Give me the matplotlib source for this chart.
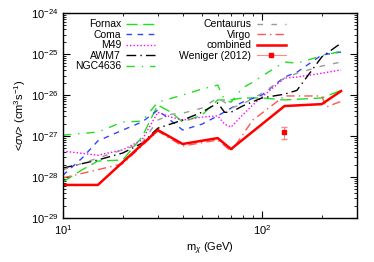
import numpy as np
import matplotlib
matplotlib.use("Agg")
import matplotlib.pyplot as plt
from matplotlib.lines import Line2D
from matplotlib.ticker import NullFormatter

plt.rcParams['font.family'] = ['Liberation Sans', 'DejaVu Sans']
plt.rcParams['mathtext.fontset'] = 'custom'
plt.rcParams['mathtext.rm'] = 'Liberation Sans'
plt.rcParams['mathtext.it'] = 'Liberation Sans:italic'

# limits per cluster, m in GeV, <sigma v> in cm^3/s
m_fornax = [10, 12.5, 15, 20, 25, 30, 35, 40, 50, 60, 70, 80, 100, 130, 200, 250]
sv_fornax = [7.6e-29, 1.5e-28, 2.45e-28, 2.6e-28, 9.5e-28, 5.7e-27, 3.8e-27, 2.2e-27,
             3.25e-27, 7.6e-27, 7.6e-27, 8.5e-27, 8.5e-27, 7.6e-27, 8.5e-27, 1.3e-26]

m_coma = [10, 12.5, 15, 20, 25, 30, 40, 50, 60, 70, 80, 100, 130, 150, 200, 250]
sv_coma = [1.1e-28, 2.9e-28, 7.6e-28, 1.4e-27, 2.2e-27, 4.3e-27, 1.4e-27, 1.95e-27,
           3.1e-27, 4.8e-27, 6.7e-27, 1.0e-26, 2.75e-26, 3.6e-26, 9.5e-26, 1.12e-25]

m_m49 = [10, 15, 20, 25, 30, 35, 40, 50, 60, 65, 70, 80, 90, 100, 130, 150, 200, 250]
sv_m49 = [4.3e-28, 3.4e-28, 4.6e-28, 8.0e-28, 3.8e-27, 2.9e-27, 2.45e-27, 2.9e-27, 3.1e-27,
          1.95e-27, 1.65e-27, 3.25e-27, 5.7e-27, 8.9e-27, 2.6e-26, 2.75e-26, 3.4e-26, 4.1e-26]

m_awm7 = [10, 15, 20, 25, 30, 40, 50, 60, 65, 70, 80, 100, 130, 150, 200, 250]
sv_awm7 = [1.65e-28, 2.6e-28, 3.85e-28, 6.7e-28, 1.55e-27, 2.45e-27, 3.8e-27, 6.4e-27,
           3.8e-27, 3.8e-27, 5.4e-27, 8.5e-27, 1.05e-26, 1.3e-26, 8.5e-26, 1.85e-25]

m_ngc4636 = [10, 15, 20, 25, 30, 40, 50, 60, 65, 70, 80, 90, 100, 130, 150, 200, 250]
sv_ngc4636 = [1.05e-27, 1.25e-27, 2.2e-27, 2.3e-27, 6.7e-27, 1.0e-26, 1.4e-26, 1.75e-26,
              7.6e-27, 6.7e-27, 1.5e-26, 2.05e-26, 2.9e-26, 6.4e-26, 6.0e-26, 9.0e-26, 1.18e-25]

m_centaurus = [10, 15, 20, 25, 30, 35, 40, 50, 60, 65, 70, 80, 100, 130, 150, 200, 250]
sv_centaurus = [1.5e-28, 2.9e-28, 4.6e-28, 6.7e-28, 2.45e-27, 3.4e-27, 3.6e-27, 4.8e-27,
                8.5e-27, 6.7e-27, 4.8e-27, 6.0e-27, 1.1e-26, 2.6e-26, 3.4e-26, 5.1e-26, 6.4e-26]

m_virgo = [10, 20, 30, 40, 60, 70, 75, 90, 100, 130, 200, 210, 250]
sv_virgo = [9.5e-29, 2.1e-28, 1.32e-27, 5.7e-28, 8.0e-28, 4.3e-28, 6.7e-28, 2.45e-27,
            3.6e-27, 9.5e-27, 9.5e-27, 5.1e-27, 7.0e-27]

m_combined = [10, 15, 30, 40, 60, 70, 130, 200, 250]
sv_combined = [6.4e-29, 6.4e-29, 1.4e-27, 6.4e-28, 8.9e-28, 4.8e-28, 5.4e-27, 6.0e-27, 1.25e-26]

# Weniger (2012) line
m_weniger = [129.8]
sv_weniger = [1.27e-27]
sv_weniger_lo = [0.43e-27]
sv_weniger_hi = [0.37e-27]

fig = plt.figure(figsize=(3.74, 2.62), dpi=100)
ax = fig.add_axes([0.168, 0.168, 0.786, 0.782])

green = '#22dd22'
ax.plot(m_fornax, sv_fornax, color=green, lw=1.0, dashes=(8, 4), label='Fornax')
ax.plot(m_coma, sv_coma, color='#3344ff', lw=1.0, dashes=(4, 4), label='Coma')
ax.plot(m_m49, sv_m49, color='#ff00ff', lw=1.0, dashes=(1, 1.5), label='M49')
ax.plot(m_awm7, sv_awm7, color='black', lw=1.0, dashes=(7, 3, 1, 3), label='AWM7')
ax.plot(m_ngc4636, sv_ngc4636, color=green, lw=1.0, dashes=(6, 5, 1, 5), label='NGC4636')
ax.plot(m_centaurus, sv_centaurus, color='#999999', lw=1.0, dashes=(4, 6), label='Centaurus')
ax.plot(m_virgo, sv_virgo, color='#ff5555', lw=1.0, dashes=(6, 3, 1, 3), label='Virgo')
ax.plot(m_combined, sv_combined, color='#ff0000', lw=1.8, label='combined')
ax.errorbar(m_weniger, sv_weniger, yerr=[sv_weniger_lo, sv_weniger_hi], fmt='s',
            color='#ff0000', ms=3, ecolor='#ff8888', elinewidth=0.8, capsize=2)

ax.set_xscale('log')
ax.set_yscale('log')
ax.set_xlim(10, 300)
ax.set_ylim(1e-29, 1e-24)
ax.xaxis.set_minor_formatter(NullFormatter())
ax.yaxis.set_minor_formatter(NullFormatter())

ax.tick_params(which='both', direction='in', top=True, right=True, labelsize=8)
ax.tick_params(which='major', length=5, width=0.8)
ax.tick_params(which='minor', length=2.5, width=0.6)
for s in ax.spines.values():
    s.set_linewidth(1.0)

ax.set_xlabel(r'm$_\chi$ (GeV)', fontsize=8, labelpad=3)
ax.set_ylabel(r'<$\sigma$v> (cm$^3$s$^{-1}$)', fontsize=8, labelpad=2)

# legend entry for the point drawn gnuplot-style: bar with the marker in it
handles, labels = ax.get_legend_handles_labels()
handles.append(Line2D([], [], color='#ff8888', lw=0.8, marker='s', ms=3,
                      mfc='#ff0000', mec='#ff0000'))
labels.append('Weniger (2012)')
ax.legend(handles, labels, ncol=2, loc='upper left', frameon=False, markerfirst=False,
          fontsize=7.5, handlelength=2.8, handletextpad=0.5, columnspacing=2.3,
          labelspacing=0.05, borderaxespad=0.2, bbox_to_anchor=(0.02, 1.0))

fig.savefig('out.png', dpi=100)
